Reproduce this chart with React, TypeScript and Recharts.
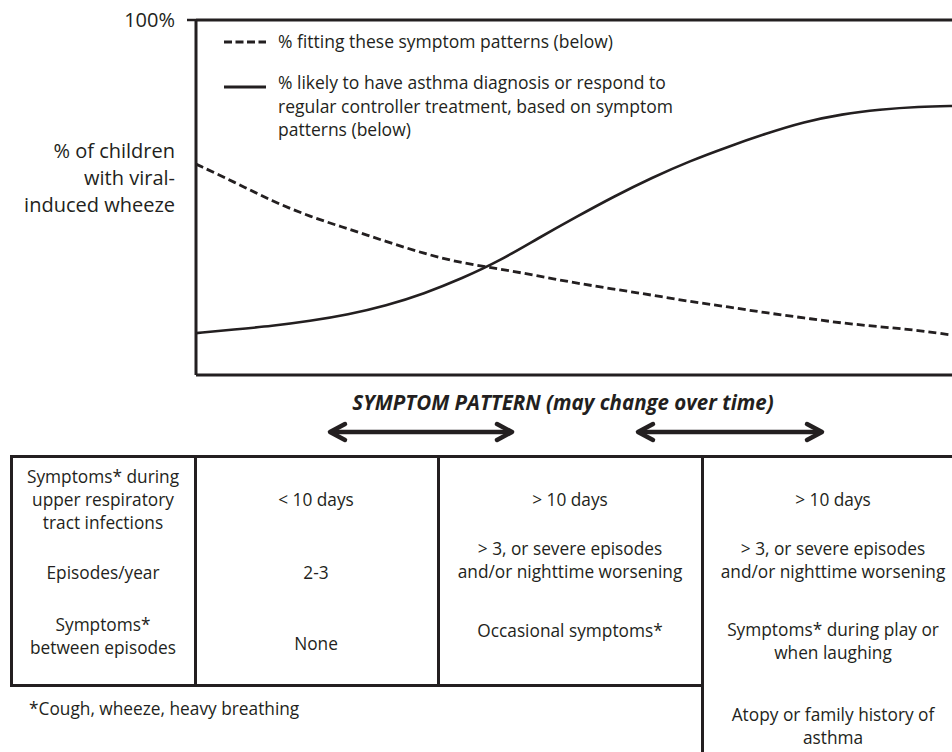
import { LineChart, Line, XAxis, YAxis, ReferenceLine, Legend } from 'recharts';

// position along the symptom-pattern axis (0 = mild/infrequent, 100 = persistent)
const patternPos = [0, 5, 10, 15, 20, 25, 30, 35, 40, 45, 50, 55, 60, 65, 70, 75, 80, 85, 90, 95, 100];
// % fitting these symptom patterns (dashed)
const fittingPct = [59.4, 54.4, 49.0, 44.6, 41.2, 37.6, 34.2, 31.5, 29.9, 27.9, 25.9, 24.2, 22.5, 20.7, 19.2, 17.5, 16.1, 14.6, 13.6, 12.6, 11.1];
// % likely to have asthma diagnosis / respond to controller (solid)
const asthmaPct = [11.8, 12.8, 13.8, 15.2, 17.0, 19.5, 22.9, 27.2, 32.2, 38.5, 44.5, 50.3, 55.6, 60.3, 64.3, 68.0, 71.3, 73.5, 74.8, 75.6, 75.8];

const yTicks = [0, 100];
const yLabelLines = ['% of children', 'with viral-', 'induced wheeze'];
const legendOrder = ['fitting', 'asthma'];
const fittingLegend = ['% fitting these symptom patterns (below)'];
const asthmaLegend = [
  '% likely to have asthma diagnosis or respond to',
  'regular controller treatment, based on symptom',
  'patterns (below)',
];
const axisTitle = 'SYMPTOM PATTERN (may change over time)';

// table below the chart
const rowLabels = [
  ['Symptoms* during', 'upper respiratory', 'tract infections'],
  ['Episodes/year'],
  ['Symptoms*', 'between episodes'],
];
const colMild = [['< 10 days'], ['2-3'], ['None']];
const colMid = [['> 10 days'], ['> 3, or severe episodes', 'and/or nighttime worsening'], ['Occasional symptoms*']];
const colSevere = [
  ['> 10 days'],
  ['> 3, or severe episodes', 'and/or nighttime worsening'],
  ['Symptoms* during play or', 'when laughing'],
  ['Atopy or family history of', 'asthma'],
];
const footnote = '*Cough, wheeze, heavy breathing';

const data = patternPos.map((p, i) => ({ pos: p, fitting: fittingPct[i], asthma: asthmaPct[i] }));

const INK = '#231f20';
const FONT = '"Open Sans", Lato, sans-serif';

const YLabel = ({ viewBox }: any) => {
  const x = viewBox.x + viewBox.width - 21;
  const cy = viewBox.y + viewBox.height / 2;
  return (
    <text x={x} y={cy} textAnchor="end" fill={INK} fontSize={20} fontFamily={FONT}>
      {yLabelLines.map((l, i) => (
        <tspan key={l} x={x} y={cy - 47 + i * 27} dominantBaseline="central">{l}</tspan>
      ))}
    </text>
  );
};

const LegendBox = ({ payload }: any) => {
  const items = [...(payload || [])].sort(
    (a: any, b: any) => legendOrder.indexOf(a.dataKey) - legendOrder.indexOf(b.dataKey)
  );
  return (
    <div style={{ fontFamily: FONT, fontSize: 17.5, color: INK }}>
      {items.map((p: any) => {
        const dashed = p.dataKey === 'fitting';
        const lines = dashed ? fittingLegend : asthmaLegend;
        return (
          <div key={p.dataKey} style={{ display: 'flex', alignItems: 'flex-start', marginBottom: 17.5 }}>
            <svg width={54} height={23} style={{ flex: 'none' }}>
              <line x1={0} x2={42} y1={dashed ? 12 : 16} y2={dashed ? 12 : 16} stroke={INK} strokeWidth={3}
                strokeDasharray={dashed ? '8 3.5' : undefined} />
            </svg>
            <div style={{ lineHeight: '23.5px' }}>
              {lines.map(l => <div key={l}>{l}</div>)}
            </div>
          </div>
        );
      })}
    </div>
  );
};

const TextBlock = ({ x, y, lines }: { x: number; y: number; lines: string[] }) => (
  <div style={{
    position: 'absolute', left: x, top: y, transform: 'translate(-50%, -50%)',
    textAlign: 'center', whiteSpace: 'nowrap', lineHeight: '23px',
  }}>
    {lines.map(l => <div key={l}>{l}</div>)}
  </div>
);

const hLine = (x: number, y: number, w: number): React.CSSProperties => ({
  position: 'absolute', left: x, top: y - 1.5, width: w, height: 3, background: INK,
});
const vLine = (x: number, y: number, h: number): React.CSSProperties => ({
  position: 'absolute', left: x - 1.5, top: y, width: 3, height: h, background: INK,
});

const DoubleArrow = ({ x1, x2, y }: { x1: number; x2: number; y: number }) => (
  <g stroke={INK} strokeWidth={4.5} fill="none" strokeLinecap="round" strokeLinejoin="round">
    <line x1={x1 + 2} x2={x2 - 2} y1={y} y2={y} />
    <polyline points={`${x1 + 15},${y - 8} ${x1},${y} ${x1 + 15},${y + 8}`} />
    <polyline points={`${x2 - 15},${y - 8} ${x2},${y} ${x2 - 15},${y + 8}`} />
  </g>
);

const rowY = [499, 560, 636];

export default function App() {
  return (
    <div style={{ position: 'absolute', left: 0, top: 0, width: 952, height: 752, overflow: 'hidden', background: '#fff', fontFamily: FONT, color: INK, fontSize: 17.3 }}>
      <LineChart width={970} height={380} data={data} margin={{ top: 20, right: 14, bottom: 5, left: 0 }}>
        <XAxis type="number" dataKey="pos" domain={[0, 100]} hide />
        <YAxis
          width={196}
          domain={[0, 100]}
          ticks={yTicks}
          tickSize={9}
          tickMargin={12}
          axisLine={{ stroke: INK, strokeWidth: 3 }}
          tickLine={{ stroke: INK, strokeWidth: 2.5 }}
          tick={{ fill: INK, fontSize: 20, fontFamily: FONT }}
          tickFormatter={(v) => (v === 100 ? '100%' : String(v))}
          label={{ content: (props: any) => <YLabel viewBox={props.viewBox} /> }}
        />
        <ReferenceLine y={100} stroke={INK} strokeWidth={3} />
        <ReferenceLine y={0} stroke={INK} strokeWidth={3} />
        <Legend
          layout="horizontal"
          verticalAlign="middle"
          align="center"
          wrapperStyle={{ left: 224, top: 30, width: 640 }}
          content={<LegendBox />}
        />
        <Line type="basis" dataKey="fitting" name="fitting" stroke={INK} strokeWidth={2.8} strokeDasharray="8 4" dot={false} isAnimationActive={false} />
        <Line type="basis" dataKey="asthma" name="asthma" stroke={INK} strokeWidth={2.6} dot={false} isAnimationActive={false} />
      </LineChart>

      <div style={{ position: 'absolute', left: 563, top: 402, transform: 'translate(-50%, -50%)', fontWeight: 700, fontStyle: 'italic', fontSize: 20.5, whiteSpace: 'nowrap' }}>
        {axisTitle}
      </div>
      <svg width={952} height={40} style={{ position: 'absolute', left: 0, top: 412 }}>
        <DoubleArrow x1={330} x2={512} y={20} />
        <DoubleArrow x1={638} x2={822} y={20} />
      </svg>

      {/* table frame */}
      <div style={hLine(10, 456, 942)} />
      <div style={hLine(10, 685, 693)} />
      <div style={vLine(11, 456, 230)} />
      <div style={vLine(195, 456, 230)} />
      <div style={vLine(438, 456, 230)} />
      <div style={vLine(702, 456, 300)} />

      {rowLabels.map((l, i) => <TextBlock key={'r' + i} x={103} y={rowY[i] + (i === 1 ? 12 : 0)} lines={l} />)}
      {colMild.map((l, i) => <TextBlock key={'a' + i} x={316} y={i === 1 ? 572 : i === 2 ? 643 : rowY[i]} lines={l} />)}
      {colMid.map((l, i) => <TextBlock key={'b' + i} x={570} y={i === 2 ? 630 : rowY[i]} lines={l} />)}
      {colSevere.map((l, i) => <TextBlock key={'c' + i} x={833} y={[499, 560, 641, 726][i]} lines={l} />)}

      <div style={{ position: 'absolute', left: 29, top: 708, transform: 'translateY(-50%)', whiteSpace: 'nowrap' }}>{footnote}</div>
    </div>
  );
}
